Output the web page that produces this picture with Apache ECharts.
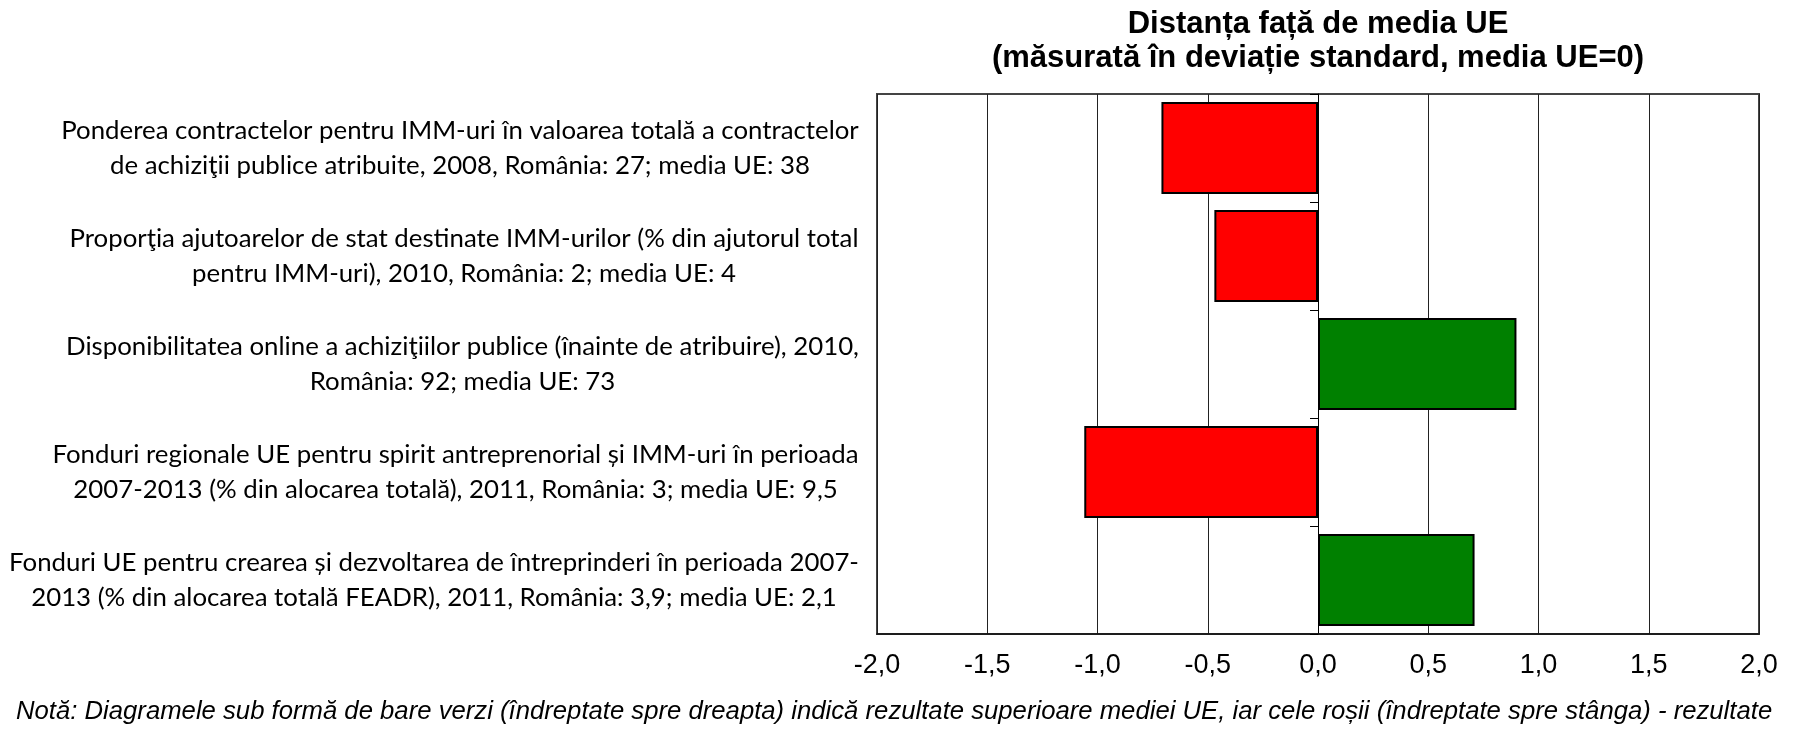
<!DOCTYPE html>
<html>
<head>
<meta charset="utf-8">
<script src="https://cdn.jsdelivr.net/npm/echarts@6/dist/echarts.min.js"></script>
<style>
html,body{margin:0;padding:0;background:#fff;}
#chart{width:1794px;height:736px;}
</style>
</head>
<body>
<div id="chart"></div>
<script>
const categories = [
  'Ponderea contractelor pentru IMM-uri în valoarea totală a contractelor\nde achiziţii publice atribuite, 2008, România: 27; media UE: 38',
  'Proporţia ajutoarelor de stat destinate IMM-urilor (% din ajutorul total\npentru IMM-uri), 2010, România: 2; media UE: 4',
  'Disponibilitatea online a achiziţiilor publice (înainte de atribuire), 2010,\nRomânia: 92; media UE: 73',
  'Fonduri regionale UE pentru spirit antreprenorial și IMM-uri în perioada\n2007-2013 (% din alocarea totală), 2011, România: 3; media UE: 9,5',
  'Fonduri UE pentru crearea și dezvoltarea de întreprinderi în perioada 2007-\n2013 (% din alocarea totală FEADR), 2011, România: 3,9; media UE: 2,1'
];
const distanceValues = [-0.71, -0.47, 0.90, -1.06, 0.71];
const xTicks = { min: -2, max: 2, interval: 0.5 };
const titleText = 'Distanța față de media UE\n(măsurată în deviație standard, media UE=0)';
const noteText = 'Notă: Diagramele sub formă de bare verzi (îndreptate spre dreapta) indică rezultate superioare mediei UE, iar cele roșii (îndreptate spre stânga) - rezultate';

// text measuring helpers (for font fitting / centred multi-line labels)
const mctx = document.createElement('canvas').getContext('2d');
function tw(text, font) { mctx.font = font; return mctx.measureText(text).width; }

const LABEL_FAMILY = 'Lato';
const labelRefLine = categories[0].split('\n')[0];
const labelSize = Math.round(100 * 797 / tw(labelRefLine, '100px ' + LABEL_FAMILY) * 10) / 10;
const labelFont = labelSize + 'px ' + LABEL_FAMILY;

const NOTE_FAMILY = 'Liberation Sans';
const noteSize = Math.round(100 * 1760 / tw(noteText, 'italic 100px "' + NOTE_FAMILY + '"') * 10) / 10;

const rich = {};
categories.forEach((c, i) => {
  const w = Math.max(...c.split('\n').map(l => tw(l, labelFont)));
  rich['l' + i] = { width: Math.ceil(w) + 2, align: 'center', fontFamily: LABEL_FAMILY, fontSize: labelSize, lineHeight: 35, color: '#000' };
});

const chart = echarts.init(document.getElementById('chart'), null, { renderer: 'canvas' });
chart.setOption({
  animation: false,
  backgroundColor: '#fff',
  title: [
    {
      text: titleText,
      left: 1313, top: 2, textAlign: 'center',
      textStyle: { fontFamily: 'Liberation Sans', fontWeight: 'bold', fontSize: 31, lineHeight: 34, color: '#000' }
    },
    {
      text: noteText,
      left: 11, top: 694,
      textStyle: { fontFamily: NOTE_FAMILY, fontStyle: 'italic', fontWeight: 'normal', fontSize: noteSize, lineHeight: 26, color: '#000' }
    }
  ],
  grid: {
    left: 877, right: 35, top: 94, bottom: 102,
    containLabel: false, outerBoundsMode: 'none',
    show: true, borderColor: '#444', borderWidth: 2, backgroundColor: '#fff'
  },
  xAxis: {
    type: 'value',
    min: xTicks.min, max: xTicks.max, interval: xTicks.interval,
    axisLine: { show: true, lineStyle: { color: '#111', width: 1.5 } },
    axisTick: { show: false },
    splitLine: { show: true, lineStyle: { color: '#222', width: 1 } },
    axisLabel: {
      margin: 18, color: '#000', fontFamily: 'Liberation Sans', fontSize: 27,
      formatter: v => v.toFixed(1).replace('.', ',')
    }
  },
  yAxis: [
    {
      type: 'category', data: categories, inverse: true, position: 'left',
      axisLine: { show: false, onZero: false },
      axisTick: { show: false },
      splitLine: { show: false },
      axisLabel: {
        margin: 17, align: 'right',
        formatter: (v, i) => v.split('\n').map(l => '{l' + i + '|' + l + '}').join('\n'),
        rich: rich
      }
    },
    {
      type: 'category', data: categories, inverse: true, position: 'left',
      axisLine: { show: true, onZero: true, lineStyle: { color: '#000', width: 1 } },
      axisTick: { show: true, length: 8, lineStyle: { color: '#000', width: 1 } },
      axisLabel: { show: false },
      splitLine: { show: false }
    }
  ],
  series: [{
    type: 'bar',
    yAxisIndex: 0,
    data: distanceValues,
    barCategoryGap: '15%',
    itemStyle: {
      color: p => p.value >= 0 ? '#008000' : '#ff0000',
      borderColor: '#000',
      borderWidth: 2
    }
  }]
});
</script>
</body>
</html>
